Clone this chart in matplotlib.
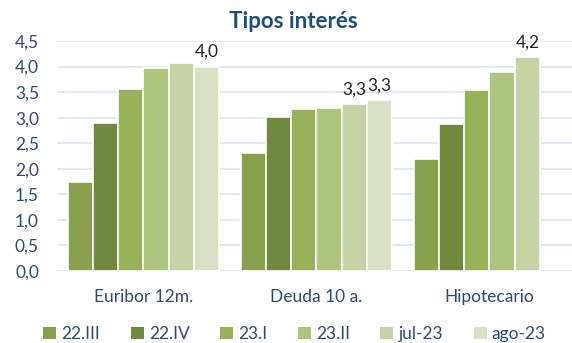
import numpy as np
import matplotlib.pyplot as plt
from matplotlib.patches import Patch

plt.rcParams['font.family'] = ['Lato', 'DejaVu Sans']

categories = ["Euribor 12m.", "Deuda 10 a.", "Hipotecario"]
series = ["22.III", "22.IV", "23.I", "23.II", "jul-23", "ago-23"]
v_22_III = [1.74, 2.31, 2.19]
v_22_IV = [2.90, 3.01, 2.88]
v_23_I = [3.57, 3.16, 3.54]
v_23_II = [3.97, 3.18, 3.89]
v_jul_23 = [4.06, 3.26, 4.18]
v_ago_23 = [4.00, 3.34, np.nan]
values = [v_22_III, v_22_IV, v_23_I, v_23_II, v_jul_23, v_ago_23]

# which bars carry a value label: (series index, category index)
labelled = [(5, 0), (4, 1), (5, 1), (4, 2)]

colors = ["#86a04c", "#71893f", "#97b158", "#adc57c", "#c3d3a4", "#d7e1c3"]
text_col = "#2a4a78"
fs = 12.5

fig = plt.figure(figsize=(5.72, 3.43), dpi=100)
ax = fig.add_axes([57 / 572, 1 - 271 / 343, 519 / 572, 230 / 343])

x = np.arange(len(categories))
slot = 0.146
for i, (name, vals) in enumerate(zip(series, values)):
    pos = x - 3 * slot + (i + 0.5) * slot
    ax.bar(pos, vals, width=slot, color=colors[i], edgecolor="white",
           linewidth=1.2, zorder=3)
    for s, c in labelled:
        if s == i:
            ax.annotate(f"{vals[c]:.1f}".replace(".", ","), (pos[c], vals[c]),
                        xytext=(0, 5), textcoords="offset points",
                        ha="center", va="bottom", fontsize=fs,
                        color="#222222", annotation_clip=False)

ax.set_xlim(-0.5, 2.5)
ax.set_ylim(0, 4.5)
ax.set_yticks(np.arange(0, 4.51, 0.5))
ax.set_yticklabels([f"{t:.1f}".replace(".", ",") for t in np.arange(0, 4.51, 0.5)])
ax.set_xticks(x)
ax.set_xticklabels(categories)
ax.tick_params(colors=text_col, labelsize=fs, length=0)
ax.tick_params(axis="y", pad=13)
ax.tick_params(axis="x", pad=13)
ax.grid(axis="y", color="#d9e4f1", linewidth=1.2, zorder=0)
for sp in ax.spines.values():
    sp.set_visible(False)

fig.text(293 / 572, 1 - 22 / 343, "Tipos interés", ha="center", va="center",
         fontsize=16, fontweight="bold", color="#1f4e79")

handles = [Patch(facecolor=c, edgecolor="none") for c in colors]
fig.legend(handles, series, loc="center", bbox_to_anchor=(0.515, 1 - 334 / 343),
           ncol=6, frameon=False, fontsize=fs, labelcolor=text_col,
           handlelength=0.75, handleheight=0.75, handletextpad=0.3,
           columnspacing=1.75)

fig.savefig("out.png", dpi=100)
